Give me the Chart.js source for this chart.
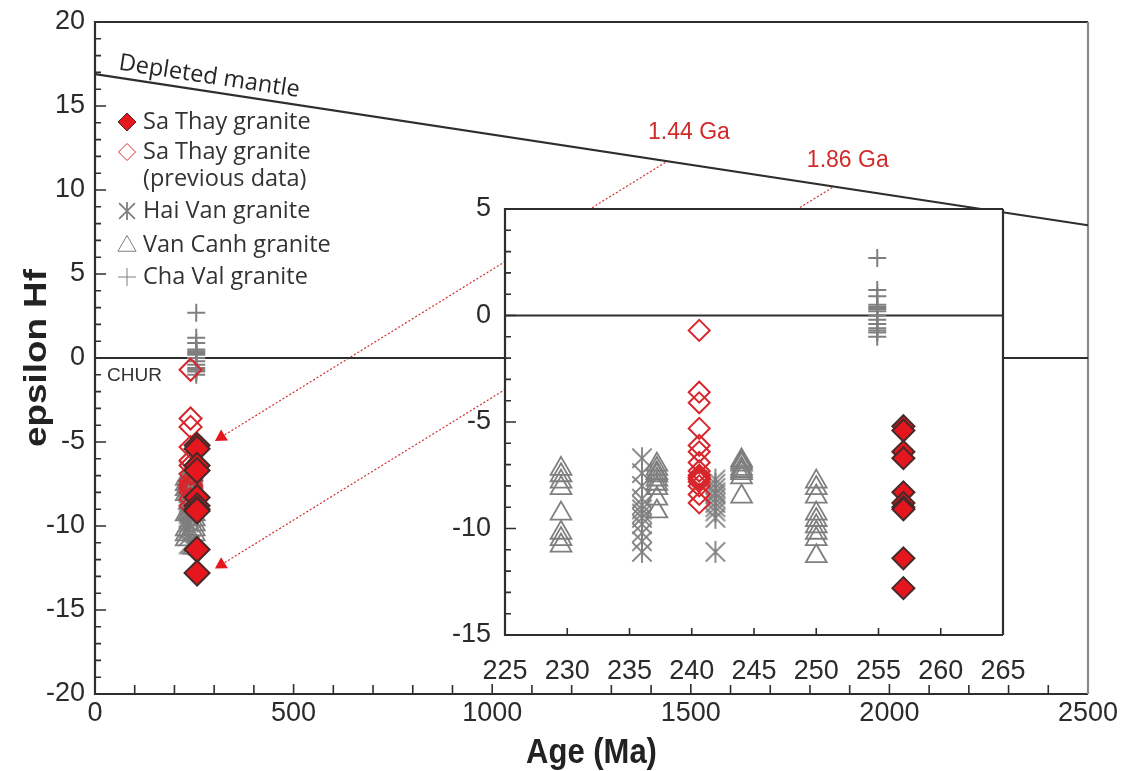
<!DOCTYPE html>
<html>
<head>
<meta charset="utf-8">
<title>epsilon Hf vs Age</title>
<script src="https://cdn.jsdelivr.net/npm/chart.js@4.4.1/dist/chart.umd.min.js"></script>
<style>
  html, body { margin: 0; padding: 0; background: #ffffff; }
  #wrap { position: relative; width: 1122px; height: 771px; overflow: hidden; }
  #main { position: absolute; left: 0; top: 0; }
  #inset { position: absolute; left: 430px; top: 190px; }
</style>
</head>
<body>
<div id="wrap">
  <canvas id="main" width="1122" height="771"></canvas>
  <canvas id="inset" width="610" height="510"></canvas>
</div>
<script>
// ---- Series: zircon epsilon Hf(t) by crystallisation age (Ma) ----
const saThayAge = 257.0;
const saThayHf = [-5.2, -5.4, -6.4, -6.7, -8.3, -8.8, -9.0, -9.1, -11.4, -12.8];

const saThayPrevAge = 240.6;
const saThayPrevHf = [-0.7, -3.6, -4.1, -5.3, -6.1, -6.4, -6.9, -7.3, -7.5, -7.6, -7.6, -7.7, -7.8, -8.0, -8.4, -8.8];

const haiVanAges = [236.0, 241.9];
const haiVanHfA = [-6.7, -7.4, -8.0, -8.6, -8.9, -9.1, -9.3, -9.5, -9.8, -10.2, -10.6, -11.1];
const haiVanHfB = [-7.7, -7.9, -8.1, -8.3, -8.4, -8.6, -8.8, -9.0, -9.2, -9.5, -11.1];

const vanCanhAges = [229.5, 237.2, 244.0, 250.0];
const vanCanhHfA = [-7.2, -7.5, -7.8, -8.1, -9.3, -10.2, -10.5, -10.8];
const vanCanhHfB = [-7.0, -7.2, -7.4, -7.5, -7.7, -7.9, -8.1, -8.6, -9.2];
const vanCanhHfC = [-6.8, -6.9, -7.0, -7.2, -7.3, -7.4, -7.6, -8.5];
const vanCanhHfD = [-7.8, -8.1, -8.5, -9.3, -9.6, -9.9, -10.2, -10.5, -11.3];

const chaValAge = 254.9;
const chaValHf = [2.7, 1.2, 0.9, 0.5, 0.4, 0.3, 0.2, 0.0, -0.2, -0.4, -0.6, -0.7, -0.8, -1.0];

// Depleted mantle evolution line and CHUR reference
const dmAges = [0, 2500];
const dmHf = [16.9, 7.9];
const churAges = [0, 2500];
const churHf = [0, 0];

// Two-stage model ages projected onto the depleted mantle line
const modelAges = [1440, 1860];
const modelDmHf = [11.7, 10.2];
const modelLabels = ['1.44 Ga', '1.86 Ga'];
const modelStartAge = 318;
const modelStartHf = [-4.7, -12.3];

// Legend entries (lines of each entry)
const legendEntries = [
  ['Sa Thay granite'],
  ['Sa Thay granite', '(previous data)'],
  ['Hai Van granite'],
  ['Van Canh granite'],
  ['Cha Val granite']
];

// Tick labels
const mainXTicks = [0, 500, 1000, 1500, 2000, 2500];
const mainYTicks = [-20, -15, -10, -5, 0, 5, 10, 15, 20];
const insetXTicks = [225, 230, 235, 240, 245, 250, 255, 260, 265];
const insetYTicks = [-15, -10, -5, 0, 5];

// ---- Styling ----
const RED_FILL = '#e5161d';
const RED_EDGE = '#472a2a';
const RED_OPEN = '#d8262d';
const GRAY = '#7f7f7f';
const INK = '#2e2e2e';
const NUM_FONT = "'Liberation Sans', Arial, sans-serif";
const TXT_FONT = "'Open Sans', 'Noto Sans', sans-serif";

function pts(age, arr) { return arr.map(v => ({ x: age, y: v })); }
function pairs(xs, ys) { return xs.map((v, i) => ({ x: v, y: ys[i] })); }

function asteriskImage(r, color, lw) {
  const s = Math.ceil(2 * r + lw + 2);
  const c = document.createElement('canvas');
  c.width = s; c.height = s;
  const g = c.getContext('2d');
  g.strokeStyle = color; g.lineWidth = lw;
  const m = s / 2, d = r * 0.88;
  g.beginPath();
  g.moveTo(m, m - r); g.lineTo(m, m + r);
  g.moveTo(m - d, m - d); g.lineTo(m + d, m + d);
  g.moveTo(m - d, m + d); g.lineTo(m + d, m - d);
  g.stroke();
  return c;
}
const asteriskBig = asteriskImage(11, GRAY, 1.8);
const asteriskLegend = asteriskImage(9, GRAY, 1.8);

function pointDatasets(sz) {
  return [
    { label: 'Sa Thay granite', data: pts(saThayAge, saThayHf), pointStyle: 'rectRot',
      pointRadius: sz.diamond, backgroundColor: RED_FILL, borderColor: RED_EDGE, borderWidth: 2, order: 1 },
    { label: 'Sa Thay granite (previous data)', data: pts(saThayPrevAge, saThayPrevHf), pointStyle: 'rectRot',
      pointRadius: sz.open, backgroundColor: 'rgba(255,255,255,0)', borderColor: RED_OPEN, borderWidth: 2, order: 2 },
    { label: 'Cha Val granite', data: pts(chaValAge, chaValHf), pointStyle: 'cross',
      pointRadius: 9, borderColor: GRAY, borderWidth: 2, order: 3 },
    { label: 'Hai Van granite', data: pts(haiVanAges[0], haiVanHfA).concat(pts(haiVanAges[1], haiVanHfB)),
      pointStyle: asteriskBig, pointRadius: 11, borderColor: GRAY, order: 4 },
    { label: 'Van Canh granite',
      data: pts(vanCanhAges[0], vanCanhHfA).concat(pts(vanCanhAges[1], vanCanhHfB),
            pts(vanCanhAges[2], vanCanhHfC), pts(vanCanhAges[3], vanCanhHfD)),
      pointStyle: 'triangle', pointRadius: 12, backgroundColor: 'rgba(255,255,255,0)',
      borderColor: GRAY, borderWidth: 1.8, order: 5 }
  ];
}

function tickFormat(v) { return String(v); }

// keep tick-label overhang from shrinking the plot area
function noScalePadding(s) {
  s.paddingLeft = 0; s.paddingRight = 0; s.paddingTop = 0; s.paddingBottom = 0;
}

// inward tick marks and frame
function drawFrame(chart, cfg) {
  const { ctx, chartArea: a, scales: { x, y } } = chart;
  ctx.save();
  ctx.strokeStyle = INK;
  ctx.lineWidth = 1.6;
  ctx.beginPath();
  for (let v = cfg.yMin; v <= cfg.yMax; v += cfg.yMinorStep) {
    const py = y.getPixelForValue(v);
    const len = (v % cfg.yMajorStep === 0) ? cfg.majorLen : cfg.minorLen;
    ctx.moveTo(a.left, py); ctx.lineTo(a.left + len, py);
  }
  for (let v = cfg.xMin; v <= cfg.xMax; v += cfg.xMinorStep) {
    if (v === cfg.xMin || v === cfg.xMax) continue;
    const px = x.getPixelForValue(v);
    const len = (v % cfg.xMajorStep === 0) ? cfg.xMajorLen : cfg.xMinorLen;
    ctx.moveTo(px, a.bottom); ctx.lineTo(px, a.bottom - len);
  }
  ctx.stroke();
  ctx.lineWidth = 2.2;
  ctx.beginPath();
  ctx.moveTo(a.right, a.top); ctx.lineTo(a.left, a.top); ctx.lineTo(a.left, a.bottom); ctx.lineTo(a.right, a.bottom);
  ctx.stroke();
  ctx.strokeStyle = cfg.rightColor;
  ctx.beginPath();
  ctx.moveTo(a.right, a.top); ctx.lineTo(a.right, a.bottom);
  ctx.stroke();
  ctx.restore();
}

function legendMarker(ctx, i, x, y) {
  const H = Chart.helpers;
  ctx.save();
  if (i === 0) {
    ctx.fillStyle = RED_FILL; ctx.strokeStyle = RED_EDGE;
    H.drawPoint(ctx, { pointStyle: 'rectRot', radius: 9, borderWidth: 1.6 }, x, y);
  } else if (i === 1) {
    ctx.fillStyle = 'rgba(255,255,255,0)'; ctx.strokeStyle = RED_OPEN;
    H.drawPoint(ctx, { pointStyle: 'rectRot', radius: 8.5, borderWidth: 1.6 }, x, y);
  } else if (i === 2) {
    ctx.drawImage(asteriskLegend, x - asteriskLegend.width / 2, y - asteriskLegend.height / 2);
  } else if (i === 3) {
    ctx.fillStyle = 'rgba(255,255,255,0)'; ctx.strokeStyle = GRAY;
    H.drawPoint(ctx, { pointStyle: 'triangle', radius: 10.5, borderWidth: 1.6 }, x, y + 1);
  } else {
    ctx.strokeStyle = GRAY;
    H.drawPoint(ctx, { pointStyle: 'cross', radius: 9, borderWidth: 1.6 }, x, y);
  }
  ctx.restore();
}

const mainDecor = {
  id: 'mainDecor',
  beforeDatasetsDraw(chart) {
    drawFrame(chart, { yMin: -20, yMax: 20, yMinorStep: 1, yMajorStep: 5, majorLen: 11, minorLen: 6,
      xMin: 0, xMax: 2500, xMinorStep: 100, xMajorStep: 500, xMajorLen: 10, xMinorLen: 9, rightColor: '#8a8a8a' });
  },
  afterDraw(chart) {
    const { ctx, chartArea: a, scales: { x, y } } = chart;
    ctx.save();
    // axis titles (slightly condensed bold face)
    ctx.fillStyle = '#222';
    ctx.font = "bold 31px " + NUM_FONT;
    ctx.textAlign = 'center'; ctx.textBaseline = 'middle';
    ctx.save();
    ctx.translate((a.left + a.right) / 2, 753);
    ctx.scale(1, 1.12);
    ctx.fillText('Age (Ma)', 0, 0);
    ctx.restore();
    ctx.save();
    ctx.translate(37, (a.top + a.bottom) / 2);
    ctx.rotate(-Math.PI / 2);
    ctx.scale(1.15, 1);
    ctx.font = "bold 32px " + NUM_FONT;
    ctx.fillText('epsilon Hf', 0, 0);
    ctx.restore();

    // depleted mantle label along the line
    const x0 = x.getPixelForValue(dmAges[0]), y0 = y.getPixelForValue(dmHf[0]);
    const x1 = x.getPixelForValue(dmAges[1]), y1 = y.getPixelForValue(dmHf[1]);
    const ang = Math.atan2(y1 - y0, x1 - x0);
    const tx = 118, ty = y0 + (tx - x0) * Math.tan(ang) - 8;
    ctx.save();
    ctx.translate(tx, ty);
    ctx.rotate(ang);
    ctx.font = "23.5px " + TXT_FONT;
    ctx.fillStyle = '#262626';
    ctx.textAlign = 'left'; ctx.textBaseline = 'alphabetic';
    ctx.fillText('Depleted mantle', 0, 0);
    ctx.restore();

    // CHUR label
    ctx.font = "19px " + NUM_FONT;
    ctx.fillStyle = '#333';
    ctx.textAlign = 'left'; ctx.textBaseline = 'middle';
    ctx.fillText('CHUR', a.left + 12, y.getPixelForValue(0) + 18);

    // model age labels
    ctx.font = "23px " + NUM_FONT;
    ctx.fillStyle = '#d12a2a';
    ctx.textAlign = 'center';
    const offs = [[22, -29], [14, -26]];
    modelAges.forEach((age, i) => {
      ctx.fillText(modelLabels[i], x.getPixelForValue(age) + offs[i][0], y.getPixelForValue(modelDmHf[i]) + offs[i][1]);
    });

    // legend
    const rowsY = [122, 152, 211, 245, 277];
    ctx.font = "23.5px " + TXT_FONT;
    ctx.fillStyle = '#333';
    ctx.textAlign = 'left'; ctx.textBaseline = 'middle';
    legendEntries.forEach((lines, i) => {
      legendMarker(ctx, i, 127, rowsY[i]);
      lines.forEach((t, k) => ctx.fillText(t, 143, rowsY[i] + k * 27));
    });
    ctx.restore();
  }
};

const commonScaleText = { family: NUM_FONT, size: 27 };

new Chart(document.getElementById('main'), {
  type: 'scatter',
  data: {
    datasets: pointDatasets({ diamond: 12.5, open: 11 }).concat([
      { label: 'Depleted mantle', data: pairs(dmAges, dmHf), showLine: true, pointRadius: 0,
        borderColor: INK, borderWidth: 2.2, order: 10 },
      { label: 'CHUR', data: pairs(churAges, churHf), showLine: true, pointRadius: 0,
        borderColor: INK, borderWidth: 2.2, order: 11 },
      { label: 'model 1', data: [{ x: modelStartAge, y: modelStartHf[0] }, { x: modelAges[0], y: modelDmHf[0] }],
        showLine: true, pointRadius: 0, borderColor: '#d0312d', borderWidth: 1.2, borderDash: [2, 2], order: 12 },
      { label: 'model 2', data: [{ x: modelStartAge, y: modelStartHf[1] }, { x: modelAges[1], y: modelDmHf[1] }],
        showLine: true, pointRadius: 0, borderColor: '#d0312d', borderWidth: 1.2, borderDash: [2, 2], order: 12 },
      { label: 'arrows', data: pairs([modelStartAge, modelStartAge], modelStartHf), pointStyle: 'triangle',
        pointRadius: 7.5, rotation: 238, backgroundColor: RED_FILL, borderWidth: 0, order: 0 }
    ])
  },
  options: {
    responsive: false,
    animation: false,
    events: [],
    layout: { padding: { left: 0, top: 22, right: 34, bottom: 0 } },
    plugins: { legend: { display: false }, tooltip: { enabled: false } },
    scales: {
      x: {
        type: 'linear', min: 0, max: 2500,
        afterBuildTicks: s => { s.ticks = mainXTicks.map(v => ({ value: v })); },
        afterFit: s => { s.height = 77; noScalePadding(s); },
        ticks: { font: commonScaleText, color: '#2b2b2b', padding: 3, maxRotation: 0, autoSkip: false, callback: tickFormat },
        grid: { display: false, drawTicks: false },
        border: { display: false }
      },
      y: {
        type: 'linear', min: -20, max: 20,
        afterBuildTicks: s => { s.ticks = mainYTicks.map(v => ({ value: v })); },
        afterFit: s => { s.width = 95; noScalePadding(s); },
        ticks: { font: commonScaleText, color: '#2b2b2b', padding: 10, autoSkip: false, callback: tickFormat },
        grid: { display: false, drawTicks: false },
        border: { display: false }
      }
    }
  },
  plugins: [mainDecor]
});

const insetDecor = {
  id: 'insetDecor',
  beforeDraw(chart) {
    const { ctx, chartArea: a } = chart;
    ctx.save();
    ctx.fillStyle = '#ffffff';
    ctx.fillRect(a.left, a.top, a.right - a.left, a.bottom - a.top);
    ctx.restore();
  },
  beforeDatasetsDraw(chart) {
    drawFrame(chart, { yMin: -15, yMax: 5, yMinorStep: 1, yMajorStep: 5, majorLen: 11, minorLen: 6,
      xMin: 225, xMax: 265, xMinorStep: 5, xMajorStep: 5, xMajorLen: 7, xMinorLen: 7, rightColor: INK });
  }
};

new Chart(document.getElementById('inset'), {
  type: 'scatter',
  data: {
    datasets: pointDatasets({ diamond: 11, open: 10.5 }).concat([
      { label: 'CHUR', data: pairs([225, 265], churHf), showLine: true, pointRadius: 0,
        borderColor: INK, borderWidth: 2.2, order: 11 }
    ])
  },
  options: {
    responsive: false,
    animation: false,
    events: [],
    layout: { padding: { left: 0, top: 19, right: 37, bottom: 0 } },
    plugins: { legend: { display: false }, tooltip: { enabled: false } },
    scales: {
      x: {
        type: 'linear', min: 225, max: 265,
        afterBuildTicks: s => { s.ticks = insetXTicks.map(v => ({ value: v })); },
        afterFit: s => { s.height = 65; noScalePadding(s); },
        ticks: { font: commonScaleText, color: '#2b2b2b', padding: 20, maxRotation: 0, autoSkip: false, callback: tickFormat },
        grid: { display: false, drawTicks: false },
        border: { display: false }
      },
      y: {
        type: 'linear', min: -15, max: 5,
        afterBuildTicks: s => { s.ticks = insetYTicks.map(v => ({ value: v })); },
        afterFit: s => { s.width = 75; noScalePadding(s); },
        ticks: { font: commonScaleText, color: '#2b2b2b', padding: 14, autoSkip: false, callback: tickFormat },
        grid: { display: false, drawTicks: false },
        border: { display: false }
      }
    }
  },
  plugins: [insetDecor]
});
</script>
</body>
</html>
